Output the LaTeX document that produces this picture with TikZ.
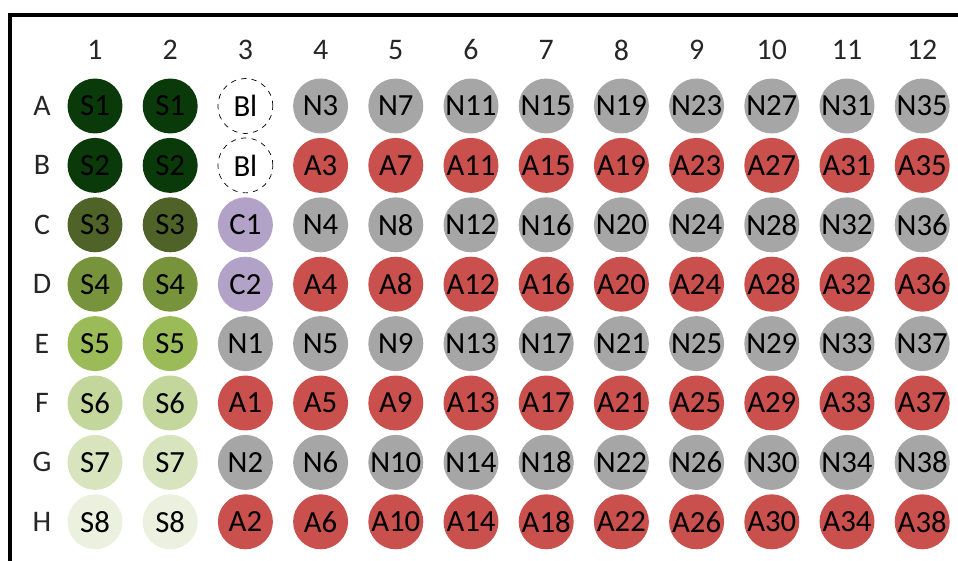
\documentclass[tikz,border=0pt]{standalone}
\usepackage{fontspec}
\setmainfont{Carlito}
\usetikzlibrary{positioning}
\definecolor{stdDark}{HTML}{0A3A0A}
\definecolor{stdOlive}{HTML}{4F6228}
\definecolor{stdMid}{HTML}{77933C}
\definecolor{stdLight}{HTML}{9BBB59}
\definecolor{stdPale}{HTML}{C3D69B}
\definecolor{stdPaler}{HTML}{D7E4BD}
\definecolor{stdPalest}{HTML}{EBF1DE}
\definecolor{ctrlLila}{HTML}{B3A2C7}
\definecolor{wellGris}{HTML}{A6A6A6}
\definecolor{wellRojo}{HTML}{C9504D}

\begin{document}
\begin{tikzpicture}[x=0.02cm, y=-0.02cm,
	lbl/.style={font=\fontsize{17}{20}\selectfont, text=black!85},
	well/.style={circle, minimum size=1.1cm, inner sep=0pt, font=\fontsize{17.5}{20}\selectfont},
	wellN/.style={well, fill=wellGris},
	wellA/.style={well, fill=wellRojo},
	blank/.style={well, fill=white, draw=black, dashed, thin}]
			\useasboundingbox (0,0) rectangle (958,561);

			% Marco
			\draw[line width=2.3pt] (10,561) -- (10,15) -- (958,15);

			% Columnas y filas
			\foreach \c in {1,...,12}
				\node[lbl] (col\c) at ({95+75.2*(\c-1)},50) {\c};
			\foreach \r [count=\i] in {A,...,H}
				\node[lbl] (row\r) at (42,{106+59.4*(\i-1)}) {\r};

			% Estandares
			\foreach \r/\s/\col [count=\i] in {A/S1/stdDark, B/S2/stdDark, C/S3/stdOlive, D/S4/stdMid,
				E/S5/stdLight, F/S6/stdPale, G/S7/stdPaler, H/S8/stdPalest} {
				\node[well, fill=\col] (\r1) at (95,{106+59.4*(\i-1)}) {\s};
				\node[well, fill=\col] (\r2) at (170.2,{106+59.4*(\i-1)}) {\s};
			}

			% Blancos y controles
			\node[blank] (A3) at (245.4,106) {Bl};
			\node[blank] (B3) at (245.4,165.4) {Bl};
			\node[well, fill=ctrlLila] (C3) at (245.4,224.8) {C1};
			\node[well, fill=ctrlLila] (D3) at (245.4,284.2) {C2};

			% Muestras
			\foreach \c in {3,...,12} {
				\foreach \r/\p/\k [count=\i] in {A/1/N, B/1/A, C/2/N, D/2/A, E/3/N, F/3/A, G/4/N, H/4/A} {
					\pgfmathtruncatemacro{\n}{4*(\c-3)+\p-2}
					\ifnum\n>0
						\node[well\k] (\r\c) at ({95+75.2*(\c-1)},{106+59.4*(\i-1)}) {\k\n};
					\fi
				}
			}
		\end{tikzpicture}
\end{document}
